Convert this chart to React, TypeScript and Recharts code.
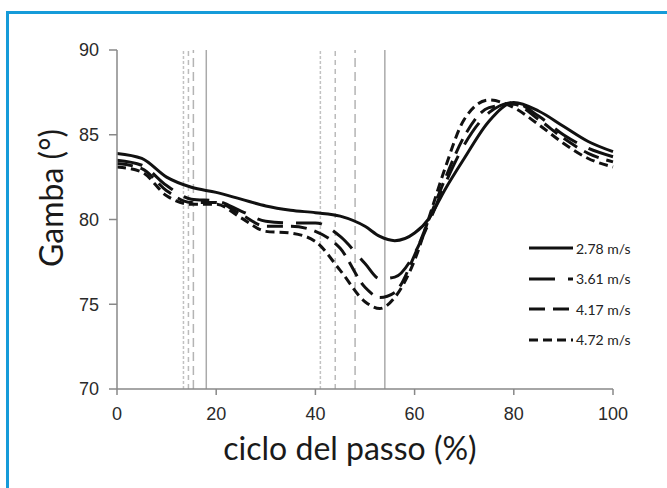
import React from "react";
import { Label, Legend, Line, LineChart, ReferenceLine, XAxis, YAxis } from "recharts";

// percent of the gait cycle
const cyclePct = [0, 5, 10, 15, 20, 25, 30, 35, 40, 45, 50, 53, 56, 60, 63, 66, 70, 75, 80, 85, 90, 95, 100];

// shank angle (deg) for each running speed
const v278 = [83.9, 83.6, 82.5, 81.9, 81.6, 81.2, 80.8, 80.55, 80.4, 80.2, 79.6, 79.0, 78.75, 79.2, 80.1, 81.7, 83.6, 85.8, 86.9, 86.4, 85.5, 84.6, 84.0];
const v361 = [83.5, 83.2, 82.0, 81.2, 81.1, 80.5, 79.9, 79.8, 79.8, 79.0, 77.4, 76.5, 76.6, 78.0, 79.9, 82.0, 84.4, 86.3, 86.9, 86.1, 85.0, 84.2, 83.7];
const v417 = [83.3, 83.0, 81.7, 81.0, 81.0, 80.3, 79.6, 79.6, 79.3, 78.3, 76.0, 75.4, 75.7, 77.9, 80.1, 82.3, 84.9, 86.6, 86.8, 85.9, 84.8, 83.9, 83.4];
const v472 = [83.1, 82.8, 81.4, 80.9, 80.9, 80.1, 79.3, 79.2, 78.7, 77.0, 75.15, 74.75, 75.4, 77.6, 80.2, 82.9, 85.9, 87.05, 86.6, 85.6, 84.5, 83.6, 83.1];

const speedLabels = ["2.78 m/s", "3.61 m/s", "4.17 m/s", "4.72 m/s"];
const speedKeys = ["s278", "s361", "s417", "s472"];
const speedDash = ["", "26 13", "16 8", "9 5"];

// event markers (foot strike / toe off) per speed, same order as speeds
const eventEarly = [18, 15.4, 14.4, 13.4];
const eventLate = [54, 48, 44, 41];
const eventDash = ["", "9 5", "5 4", "3 2"];
const eventColor = ["#aaaaaa", "#b4b4b4", "#bbbbbb", "#c2c2c2"];

const xTicks = [0, 20, 40, 60, 80, 100];
const yTicks = [70, 75, 80, 85, 90];

const data = cyclePct.map((x, i) => ({
  x,
  s278: v278[i],
  s361: v361[i],
  s417: v417[i],
  s472: v472[i],
}));

const tickFont = { fontFamily: "'Liberation Sans', Arial, sans-serif", fontSize: 18, fill: "#2a2a2a" };
const titleFont = "Lato, 'Open Sans', sans-serif";

const renderLegend = () => (
  <div style={{ fontFamily: titleFont, fontSize: 14, color: "#222" }}>
    {speedLabels.map((name, i) => (
      <div key={name} style={{ display: "flex", alignItems: "center", height: 30.5 }}>
        <svg width={45} height={8}>
          <line x1={0} y1={4} x2={44} y2={4} stroke="#111" strokeWidth={3} strokeDasharray={speedDash[i]} />
        </svg>
        <span style={{ marginLeft: 2 }}>{name}</span>
      </div>
    ))}
  </div>
);

export default function App() {
  return (
    <div style={{ position: "absolute", left: 0, top: 0, width: 667, height: 488, background: "#fff", overflow: "hidden" }}>
      <div
        style={{
          position: "absolute",
          left: 6,
          top: 11,
          width: 700,
          height: 500,
          borderTop: "3px solid #159bd9",
          borderLeft: "3px solid #159bd9",
        }}
      />
      <div style={{ position: "absolute", left: 0, top: 0 }}>
        <LineChart width={667} height={488} data={data} margin={{ top: 50, right: 54, left: 0, bottom: 59 }}>
          <XAxis
            dataKey="x"
            type="number"
            domain={[0, 100]}
            ticks={xTicks}
            height={40}
            tickSize={6}
            tickMargin={12}
            stroke="#888"
            strokeWidth={1.5}
            tick={tickFont}
          >
            <Label
              content={() => (
                <text x={350} y={460} textAnchor="middle" fontFamily={titleFont} fontSize={32} fill="#1a1a1a">
                  ciclo del passo (%)
                </text>
              )}
            />
          </XAxis>
          <YAxis
            type="number"
            domain={[70, 90]}
            ticks={yTicks}
            width={117}
            tickSize={8}
            tickMargin={10}
            stroke="#888"
            strokeWidth={1.5}
            tick={tickFont}
          >
            <Label
              content={() => (
                <text
                  x={63}
                  y={198}
                  transform="rotate(-90 63 198)"
                  textAnchor="middle"
                  fontFamily={titleFont}
                  fontSize={32}
                  fill="#1a1a1a"
                >
                  Gamba (°)
                </text>
              )}
            />
          </YAxis>
          {eventEarly.map((x, i) => (
            <ReferenceLine key={`e${i}`} x={x} stroke={eventColor[i]} strokeWidth={1.5} strokeDasharray={eventDash[i]} />
          ))}
          {eventLate.map((x, i) => (
            <ReferenceLine key={`l${i}`} x={x} stroke={eventColor[i]} strokeWidth={1.5} strokeDasharray={eventDash[i]} />
          ))}
          {speedKeys.map((k, i) => (
            <Line
              key={k}
              dataKey={k}
              name={speedLabels[i]}
              type="monotone"
              stroke="#111"
              strokeWidth={3}
              strokeDasharray={speedDash[i]}
              dot={false}
              activeDot={false}
              isAnimationActive={false}
            />
          ))}
          <Legend
            layout="vertical"
            align="center"
            verticalAlign="middle"
            content={renderLegend}
            wrapperStyle={{ position: "absolute", left: 529, top: 233, width: 130 }}
          />
        </LineChart>
      </div>
    </div>
  );
}
